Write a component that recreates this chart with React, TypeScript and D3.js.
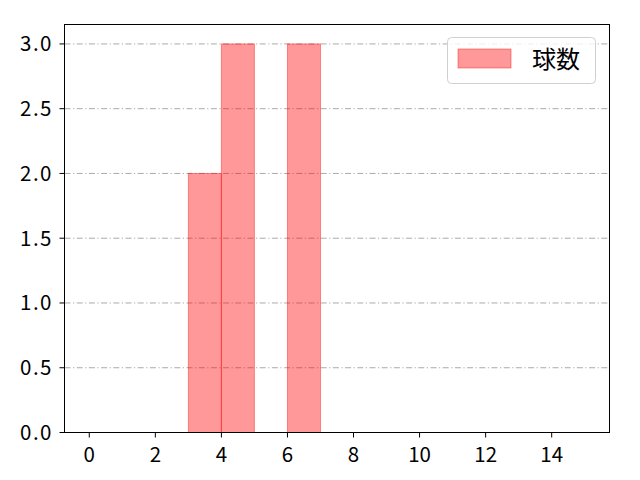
import React from "react";
import * as d3 from "d3";

const binStarts = [3, 4, 6];
const binCounts = [2, 3, 3];
const xTicks = [0, 2, 4, 6, 8, 10, 12, 14];
const yTicks = [0, 0.5, 1.0, 1.5, 2.0, 2.5, 3.0];
const seriesName = "球数";

export default function App() {
  const W = 640, H = 480;
  const L = 64.5, R = 609.5, T = 24.5, B = 432.5;
  const x = d3.scaleLinear().domain([-0.75, 15.75]).range([L, R]);
  const y = d3.scaleLinear().domain([0, 3.15]).range([B, T]);
  const font = "'Noto Sans CJK JP', 'DejaVu Sans', sans-serif";
  return (
    <svg width={W} height={H} style={{ position: "absolute", left: 0, top: 0, background: "#fff" }} fontFamily={font}>
      {yTicks.map((t) => (
        <line key={"g" + t} x1={L} x2={R} y1={y(t)} y2={y(t)} stroke="#aaaaaa" strokeWidth={1} strokeDasharray="6,2.5,1.2,2.5" />
      ))}
      {binStarts.map((s, i) => (
        <rect key={"b" + i} x={x(s)} y={y(binCounts[i])} width={x(s + 1) - x(s)} height={B - y(binCounts[i])}
          fill="red" fillOpacity={0.4} stroke="red" strokeOpacity={0.4} strokeWidth={1} />
      ))}
      <rect x={L} y={T} width={R - L} height={B - T} fill="none" stroke="#000" strokeWidth={1} />
      {xTicks.map((t) => (
        <g key={"x" + t}>
          <line x1={x(t)} x2={x(t)} y1={B} y2={B + 5} stroke="#000" />
          <text x={x(t)} y={B + 29} textAnchor="middle" fontSize={20.5} fill="#000">{t}</text>
        </g>
      ))}
      {yTicks.map((t) => (
        <g key={"y" + t}>
          <line x1={L - 5} x2={L} y1={y(t)} y2={y(t)} stroke="#000" />
          <text x={L - 11.5} y={y(t)} dy="0.36em" textAnchor="end" fontSize={20.5} letterSpacing={1.5} fill="#000">{t.toFixed(1)}</text>
        </g>
      ))}
      <rect x={447.5} y={37.5} width={148} height={46} rx={4} fill="#fff" fillOpacity={0.8} stroke="#d0d0d0" />
      <rect x={458} y={49} width={53} height={19} fill="red" fillOpacity={0.4} stroke="red" strokeOpacity={0.4} />
      <text x={532} y={59} dy="0.36em" fontSize={24} fill="#000">{seriesName}</text>
    </svg>
  );
}
